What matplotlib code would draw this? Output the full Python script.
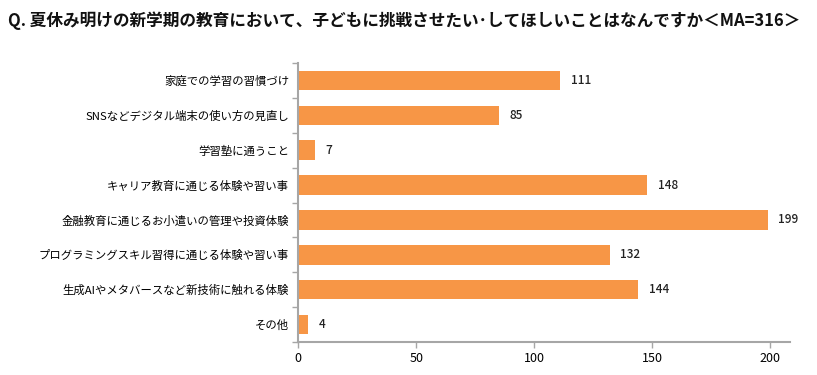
import matplotlib
matplotlib.use("Agg")
import matplotlib.pyplot as plt
import numpy as np

plt.rcParams['font.family'] = ['Noto Sans CJK JP', 'DejaVu Sans']

title = "Q. 夏休み明けの新学期の教育において、子どもに挑戦させたい･してほしいことはなんですか＜MA=316＞"
categories = [
    "家庭での学習の習慣づけ",
    "SNSなどデジタル端末の使い方の見直し",
    "学習塾に通うこと",
    "キャリア教育に通じる体験や習い事",
    "金融教育に通じるお小遣いの管理や投資体験",
    "プログラミングスキル習得に通じる体験や習い事",
    "生成AIやメタバースなど新技術に触れる体験",
    "その他",
]
values = [111, 85, 7, 148, 199, 132, 144, 4]
xticks = [0, 50, 100, 150, 200]

fig = plt.figure(figsize=(8.17, 3.75), dpi=100)
ax = fig.add_axes([0.365, 0.088, 0.602, 0.744])

y = np.arange(len(categories))
ax.barh(y, values, height=0.56, color='#F79646')
for yi, v in zip(y, values):
    ax.text(v + 4.5, yi, str(v), va='center', ha='left', fontsize=8.5,
            fontweight='medium', color='#222222')

ax.set_ylim(len(categories) - 0.5, -0.5)
ax.set_xlim(0, 208.5)
ax.set_yticks(y)
ax.set_yticklabels(categories, fontsize=8.2)
ax.set_yticks(np.arange(-0.5, len(categories), 1), minor=True)
ax.tick_params(axis='y', which='major', length=0, pad=6.5)
ax.tick_params(axis='y', which='minor', length=4, color='#a6a6a6', width=1)
ax.set_xticks(xticks)
ax.tick_params(axis='x', labelsize=9, length=4, color='#a6a6a6', width=1)

for s in ['top', 'right']:
    ax.spines[s].set_visible(False)
for s in ['left', 'bottom']:
    ax.spines[s].set_color('#a6a6a6')
    ax.spines[s].set_linewidth(1.5)

fig.text(0.01, 0.945, title, fontsize=12, fontweight='bold', ha='left', va='center', color='#111111')

fig.savefig('out.png', dpi=100)
